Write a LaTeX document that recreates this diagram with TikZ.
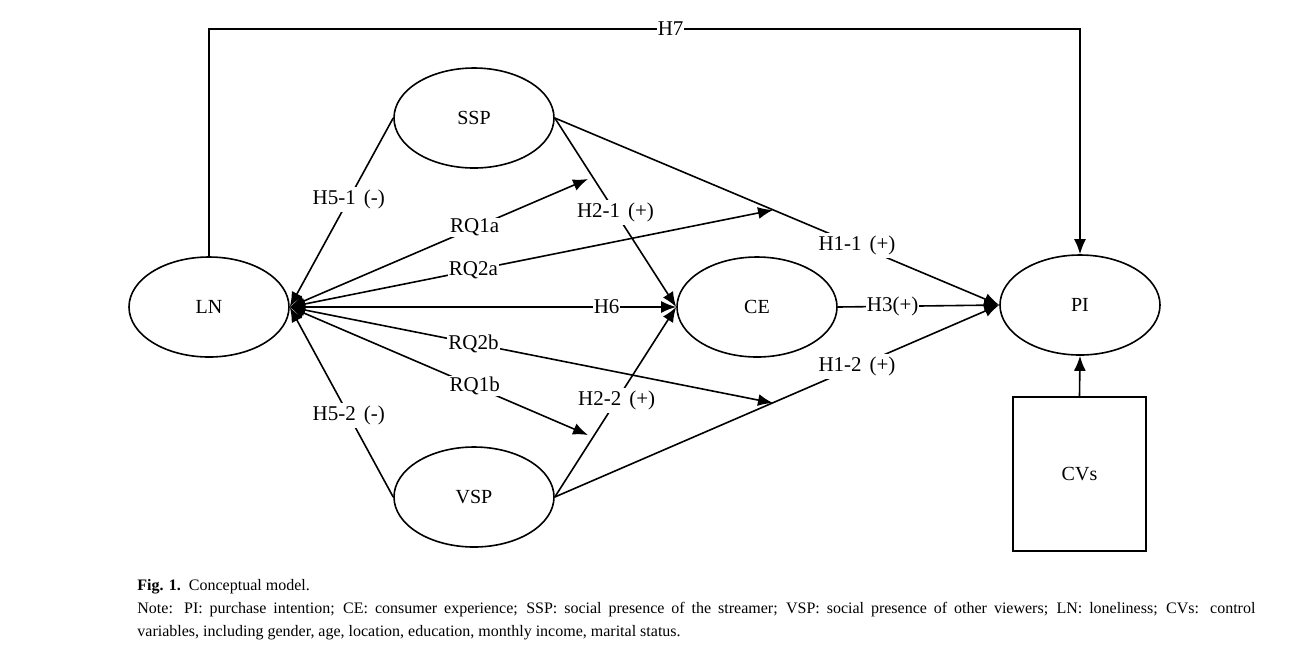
\documentclass[tikz,border=0pt]{standalone}
\usepackage{fontspec}
\setmainfont{Liberation Serif}
\usetikzlibrary{shapes.geometric,arrows.meta}

\begin{document}
\begin{tikzpicture}[x=0.5pt,y=-0.5pt,
  var/.style={draw,ellipse,line width=0.8pt,minimum width=80pt,minimum height=50pt,inner sep=0pt,font=\fontsize{10}{12}\selectfont},
  arr/.style={line width=0.8pt,-{Latex[length=7.5pt,width=6pt]}},
  arrb/.style={line width=0.8pt,{Latex[length=7.5pt,width=6pt]}-{Latex[length=7.5pt,width=6pt]}},
  lbl/.style={fill=white,inner sep=1.5pt,font=\fontsize{10.5}{12}\selectfont}]
\useasboundingbox (0,0) rectangle (1297,645);

% constructs
\node[var] (LN) at (209,307) {LN};
\node[var] (SSP) at (474,118) {SSP};
\node[var] (VSP) at (474,497) {VSP};
\node[var] (CE) at (757,307) {CE};
\node[var] (PI) at (1080,305) {PI};
\node[draw,line width=0.8pt,minimum width=66.5pt,minimum height=77pt,font=\fontsize{10}{12}\selectfont] (CV) at (1079.5,474) {CVs};

% points on the moderated paths
\coordinate (onH21) at (588,179);
\coordinate (onH11) at (773,210);
\coordinate (onH12) at (773,403);
\coordinate (onH22) at (588,435);
\coordinate (top) at (0,29);

% H7 over the top
\draw[arr] (LN.north) -- (LN.north |- top) -- node[lbl,inner sep=0.5pt,pos=0.53]{H7} (PI.north |- top) -- (PI.north);

% paths to LN
\draw[arr] (SSP.west) -- node[lbl,pos=0.43]{H5-1\hspace{4pt}(-)} (LN.east);
\draw[arr] (VSP.west) -- node[lbl,pos=0.43]{H5-2\hspace{4pt}(-)} (LN.east);

% paths to CE and PI
\draw[arr] (SSP.east) -- node[lbl,pos=0.5]{H2-1\hspace{4pt}(+)} (CE.west);
\draw[arr] (VSP.east) -- node[lbl,pos=0.51]{H2-2\hspace{4pt}(+)} (CE.west);
\draw[arr] (SSP.east) -- node[lbl,pos=0.68]{H1-1\hspace{4pt}(+)} (PI.west);
\draw[arr] (VSP.east) -- node[lbl,pos=0.68]{H1-2\hspace{4pt}(+)} (PI.west);
\draw[arr] (CE.east) -- node[lbl,inner sep=0.5pt,pos=0.34]{H3(+)} (PI.west);
\draw[arr] (CV.north) -- (PI.south);

% LN moderation
\draw[arrb] (LN.east) -- node[lbl,inner sep=0.5pt,pos=0.82]{H6} (CE.west);
\draw[arrb] (LN.east) -- node[lbl,inner sep=0.5pt,pos=0.62]{RQ1a} (onH21);
\draw[arrb] (LN.east) -- node[lbl,inner sep=0.5pt,pos=0.38]{RQ2a} (onH11);
\draw[arrb] (LN.east) -- node[lbl,inner sep=0.5pt,pos=0.38]{RQ2b} (onH12);
\draw[arrb] (LN.east) -- node[lbl,inner sep=0.5pt,pos=0.62]{RQ1b} (onH22);

% caption
\node[anchor=north west,inner sep=0pt,text width=559pt,align=justify,font=\fontsize{8}{11.5}\selectfont] (cap) at (137,579)
  {\textbf{Fig. 1.}\ \ Conceptual model.\\
   Note: PI: purchase intention; CE: consumer experience; SSP: social presence of the streamer; VSP: social presence of other viewers; LN: loneliness; CVs: control\linebreak
   variables, including gender, age, location, education, monthly income, marital status.};
\end{tikzpicture}
\end{document}
